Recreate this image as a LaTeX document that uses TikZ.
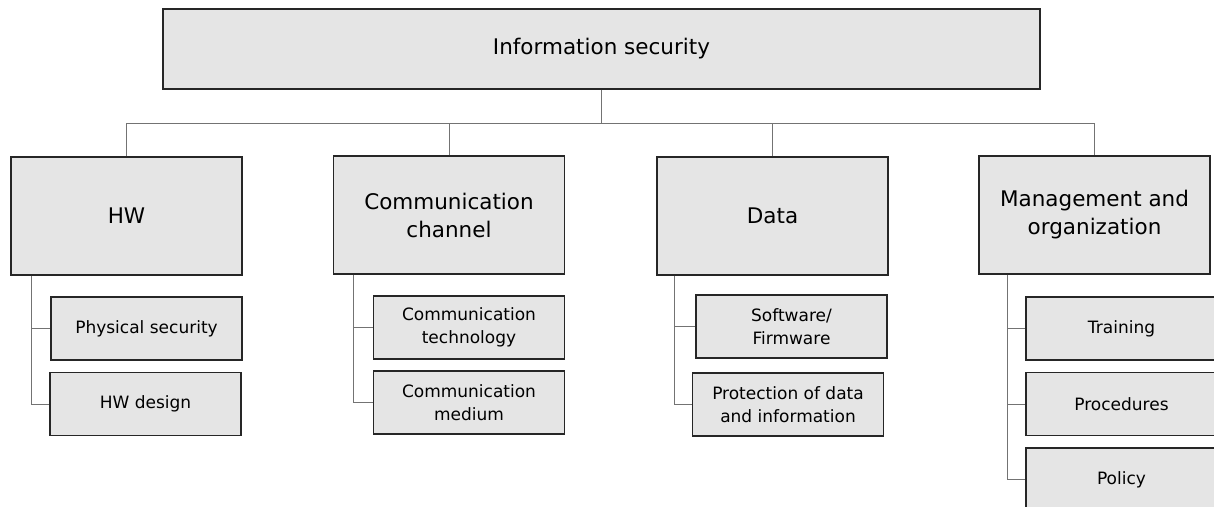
\documentclass[tikz,border=0pt]{standalone}
\usepackage{fontspec}
\setmainfont{DejaVu Sans}

\begin{document}
\begin{tikzpicture}[x=1pt,y=-1pt,
    box/.style={draw=black!85, line width=1.5pt, fill=black!10,
        align=center, inner sep=0pt},
    mainbox/.style={box, minimum width=231pt, minimum height=118pt,
        font=\fontsize{21.5}{28}\selectfont},
    subbox/.style={box, minimum width=191pt, minimum height=63pt,
        font=\fontsize{17}{23}\selectfont},
    link/.style={draw=black!55, line width=0.9pt}]

        % Frame
        \clip (0,0) rectangle (1214,506);

        % Root
        \node[box, minimum width=877pt, minimum height=80pt,
            font=\fontsize{21.5}{28}\selectfont] (infosec) at (601.5,49)
            {Information security};

        % Main areas
        \node[mainbox] (hw)   at (126.5,216) {HW};
        \node[mainbox] (comm) at (449,215)   {Communication\\channel};
        \node[mainbox] (data) at (772.5,216) {Data};
        \node[mainbox] (mgmt) at (1094.5,215) {Management and\\organization};

        % Bus
        \draw[link] (infosec.south) -- ++(0,34) coordinate (bus);
        \draw[link] (hw.north) |- (bus) -| (mgmt.north);
        \draw[link] (comm.north) -- (comm.north |- bus);
        \draw[link] (data.north) -- (data.north |- bus);

        % HW
        \node[subbox] (phys)  at (146.5,328.5) {Physical security};
        \node[subbox] (hwdes) at (145.5,404)   {HW design};
        \draw[link] ([xshift=21pt]hw.south west) |- (phys.west);
        \draw[link] ([xshift=21pt]hw.south west) |- (hwdes.west);

        % Communication channel
        \node[subbox] (tech)   at (469,327.5) {Communication\\technology};
        \node[subbox] (medium) at (469,402.5) {Communication\\medium};
        \draw[link] ([xshift=21pt]comm.south west) |- (tech.west);
        \draw[link] ([xshift=21pt]comm.south west) |- (medium.west);

        % Data
        \node[subbox] (sw)   at (791.5,326.5) {Software/\\Firmware};
        \node[subbox] (prot) at (788,404.5)   {Protection of data\\and information};
        \draw[link] ([xshift=18pt]data.south west) |- (sw.west);
        \draw[link] ([xshift=18pt]data.south west) |- (prot.west);

        % Management and organization
        \node[subbox] (train)  at (1121.5,328.5) {Training};
        \node[subbox] (proc)   at (1121.5,404)   {Procedures};
        \node[subbox] (policy) at (1121.5,479.5) {Policy};
        \draw[link] ([xshift=29pt]mgmt.south west) |- (train.west);
        \draw[link] ([xshift=29pt]mgmt.south west) |- (proc.west);
        \draw[link] ([xshift=29pt]mgmt.south west) |- (policy.west);

    \end{tikzpicture}
\end{document}
